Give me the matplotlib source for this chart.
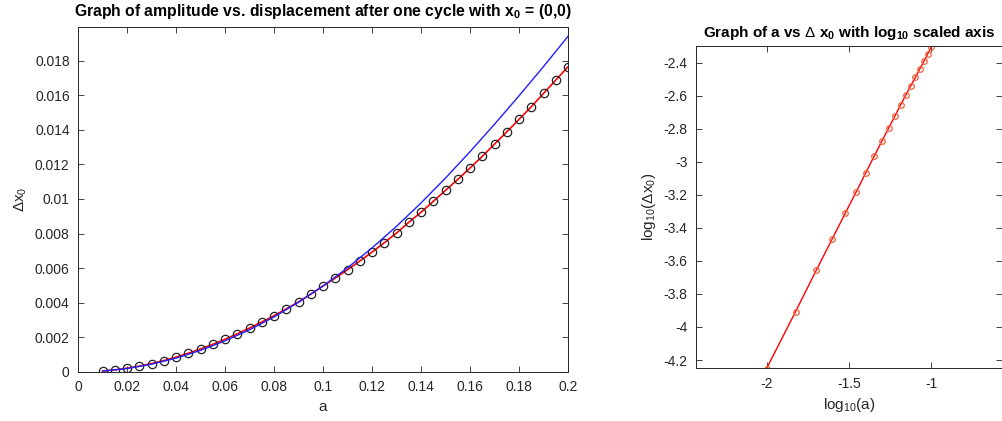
import numpy as np
import matplotlib
matplotlib.use('Agg')
import matplotlib.pyplot as plt
from matplotlib.ticker import FuncFormatter

plt.rcParams['font.family'] = ['Liberation Sans', 'DejaVu Sans']
plt.rcParams['axes.unicode_minus'] = False
plt.rcParams['mathtext.fontset'] = 'custom'
plt.rcParams['mathtext.rm'] = 'Liberation Sans'
plt.rcParams['mathtext.it'] = 'Liberation Sans'
plt.rcParams['mathtext.bf'] = 'Liberation Sans:bold'

# amplitude values and measured displacement after one cycle
a = [0.01, 0.015, 0.02, 0.025, 0.03, 0.035, 0.04, 0.045, 0.05, 0.055,
     0.06, 0.065, 0.07, 0.075, 0.08, 0.085, 0.09, 0.095, 0.1, 0.105,
     0.11, 0.115, 0.12, 0.125, 0.13, 0.135, 0.14, 0.145, 0.15, 0.155,
     0.16, 0.165, 0.17, 0.175, 0.18, 0.185, 0.19, 0.195, 0.2]
dx = [5.6e-5, 1.24e-4, 2.20e-4, 3.41e-4, 4.88e-4, 6.59e-4, 8.59e-4, 1.084e-3, 1.33e-3, 1.60e-3,
      1.89e-3, 2.21e-3, 2.54e-3, 2.89e-3, 3.25e-3, 3.65e-3, 4.05e-3, 4.50e-3, 4.97e-3, 5.43e-3,
      5.91e-3, 6.41e-3, 6.93e-3, 7.47e-3, 8.03e-3, 8.65e-3, 9.23e-3, 9.86e-3, 1.050e-2, 1.113e-2,
      1.179e-2, 1.246e-2, 1.317e-2, 1.388e-2, 1.460e-2, 1.533e-2, 1.610e-2, 1.687e-2, 1.764e-2]

# approximation curve (blue)
a_fit = [0.01, 0.02, 0.03, 0.04, 0.05, 0.06, 0.07, 0.08, 0.09, 0.1,
         0.11, 0.12, 0.13, 0.14, 0.15, 0.16, 0.17, 0.18, 0.19, 0.2]
dx_fit = [0.00005, 0.0002, 0.00045, 0.0008, 0.00125, 0.0018, 0.00244, 0.00318, 0.00403, 0.00497,
          0.00602, 0.00717, 0.00842, 0.00977, 0.01121, 0.01273, 0.01432, 0.01596, 0.01765, 0.0194]

gray = '#262626'
fmt = FuncFormatter(lambda v, p: '%g' % round(v, 6))

fig = plt.figure(figsize=(10.03, 4.21), dpi=100)

ax1 = fig.add_axes([0.0778, 0.1164, 0.4885, 0.8195])
ax1.plot(a, dx, color='#ff0000', lw=1.2, marker='o', mfc='none', mec='#222222',
         ms=6, mew=0.9)
ax1.plot(a_fit, dx_fit, color='#2020ff', lw=1.0)
ax1.set_xlim(0, 0.2)
ax1.set_ylim(0, 0.01994)
ax1.set_xticks(np.arange(0, 0.2001, 0.02))
ax1.set_yticks(np.arange(0, 0.0181, 0.002))
ax1.xaxis.set_major_formatter(fmt)
ax1.yaxis.set_major_formatter(fmt)
ax1.set_title(r'Graph of amplitude vs. displacement after one cycle with x$_\mathbf{0}$ = (0,0)',
              fontsize=11.3, fontweight='bold', pad=8)
ax1.set_xlabel('a', fontsize=11, color=gray)
ax1.set_ylabel(r'$\Delta$x$_0$', fontsize=11, color=gray)

ax2 = fig.add_axes([0.6939, 0.1252, 0.3051, 0.7663])
ax2.plot(np.log10(a), np.log10(dx), color='#ff0000', lw=1.0, marker='o', mfc='none',
         mec='#f0603a', ms=4, mew=0.9)
ax2.set_xlim(-2.428, -0.572)
ax2.set_ylim(-4.25, -2.297)
ax2.set_xticks([-2, -1.5, -1])
ax2.set_yticks(np.arange(-4.2, -2.39, 0.2))
ax2.xaxis.set_major_formatter(fmt)
ax2.yaxis.set_major_formatter(fmt)
ax2.set_title(r'Graph of a vs $\Delta$ x$_\mathbf{0}$ with log$_\mathbf{10}$ scaled axis',
              fontsize=11, fontweight='bold', pad=6)
ax2.set_xlabel(r'log$_{10}$(a)', fontsize=11, color=gray)
ax2.set_ylabel(r'log$_{10}$($\Delta$x$_0$)', fontsize=11, color=gray)

for ax in (ax1, ax2):
    ax.tick_params(direction='in', top=True, right=True, length=4, width=0.6,
                   labelsize=10, colors=gray, pad=6)
    for s in ax.spines.values():
        s.set_color(gray)
        s.set_linewidth(0.7)

fig.savefig('out.png', dpi=100)
